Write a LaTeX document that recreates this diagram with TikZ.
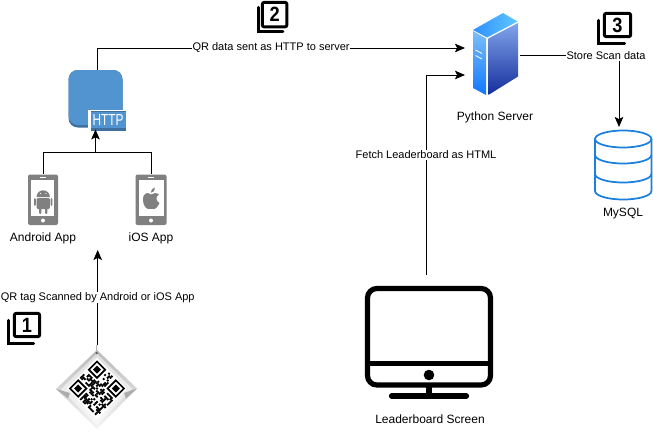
\documentclass[tikz,border=0pt]{standalone}
\usepackage{fontspec}
\setmainfont{Liberation Sans}
\usetikzlibrary{arrows.meta}
\definecolor{httpblue}{HTML}{5294CF}
\definecolor{httpdark}{HTML}{3F6F9F}
\definecolor{phonegray}{HTML}{808080}
\definecolor{dbblue}{HTML}{1A7FDD}
\tikzset{
  x=0.75pt,y=-0.75pt,
  lbl/.style={font=\fontsize{8.25pt}{10pt}\selectfont,fill=white,inner sep=0.4pt,text=black},
  cap12/.style={font=\fontsize{9pt}{11pt}\selectfont,inner sep=0pt,text=black},
  conn/.style={draw=black,line width=0.75pt,-{Stealth[length=7.5pt,width=6.4pt,inset=1.6pt]}},
  plainconn/.style={draw=black,line width=0.75pt},
  numicon/.style={line width=2.2pt,draw=black,rounded corners=1.5pt},
  numtxt/.style={font=\fontsize{15.5pt}{16pt}\selectfont\bfseries,inner sep=0pt,text=black,xscale=0.88},
}
% x, y, offset of the front box, its width, its height, digit
\newcommand{\numberedicon}[6]{%
  \draw[numicon] (#1+#3,#2) rectangle (#1+#3+#4,#2+#5);
  \draw[line width=2.2pt,black,line cap=round] (#1,#2+#3+1) -- (#1,#2+#5+#3+1) -- (#1+#4,#2+#5+#3+1);
  \node[numtxt] at (#1+#3+#4/2,#2+#5/2) {#6};
}
\begin{document}
\begin{tikzpicture}
\useasboundingbox (0,0) rectangle (653,439);
\fill[white] (0,0) rectangle (653,439);

% named anchors of the icons
\node[inner sep=0pt,minimum width=40.5pt,minimum height=43pt] (http) at (95.5,100.5) {};
\node[inner sep=0pt,minimum width=22.5pt,minimum height=38pt] (android) at (43,199.5) {};
\node[inner sep=0pt,minimum width=23.5pt,minimum height=38pt] (ios) at (151,199.5) {};
\node[inner sep=0pt,minimum width=60pt,minimum height=60pt] (tag) at (97,388) {};
\node[inner sep=0pt,minimum width=35pt,minimum height=61pt] (server) at (495,54.5) {};
\node[inner sep=0pt,minimum width=43pt,minimum height=52pt] (db) at (623.5,165) {};
\node[inner sep=0pt,minimum width=96pt,minimum height=84pt] (screen) at (429,331) {};

% HTTP icon
\fill[httpdark,rounded corners=7pt] (68.5,70) rectangle (122.5,127.5);
\fill[httpblue,rounded corners=7pt] (68.5,70) rectangle (122.5,125);
\fill[white] (88,110) rectangle (123,131);
\fill[httpblue] (90.5,111) rectangle (125.5,131);
\fill[httpdark] (90.5,127.8) rectangle (125.5,130.6);
\fill[httpdark] (90.5,110.5) rectangle (125.5,112);
\node[text=white,font=\fontsize{12pt}{13pt}\selectfont,xscale=0.74,inner sep=0pt] at (108,120) {HTTP};

% phones
\fill[phonegray,rounded corners=1.5pt] (28,174.5) rectangle (58,225);
\fill[white] (31,180) rectangle (54,215.5);
\fill[white] (40,176.5) rectangle (46,177.7);
\fill[white] (43,220.5) circle (2);
\fill[phonegray,rounded corners=1.5pt] (135.5,174.5) rectangle (166.5,225);
\fill[white] (138.5,180) rectangle (163.5,215.5);
\fill[white] (148,176.5) rectangle (154,177.7);
\fill[white] (151,220.5) circle (2);
% android glyph
\fill[phonegray] (36.5,197) arc[start angle=180,end angle=360,x radius=6.7,y radius=6.7] -- cycle;
\fill[phonegray,rounded corners=1pt] (36.5,198) rectangle (49.9,209);
\fill[phonegray,rounded corners=0.8pt] (34,198) rectangle (35.8,206);
\fill[phonegray,rounded corners=0.8pt] (50.6,198) rectangle (52.4,206);
\fill[phonegray,rounded corners=0.8pt] (39,208) rectangle (41.4,214);
\fill[phonegray,rounded corners=0.8pt] (45,208) rectangle (47.4,214);
\fill[white] (40.5,193.5) circle (0.7) (46,193.5) circle (0.7);
% apple glyph
\fill[phonegray] (151,194.5) .. controls (147,191.5) and (143,193) .. (143,200)
  .. controls (143,206) and (147,209.5) .. (149,209) .. controls (150,208.7) and (152,208.7) .. (153.5,209)
  .. controls (155.5,209.5) and (158.3,206) .. (159.5,203) .. controls (155.5,201) and (155.5,196) .. (159,194.5)
  .. controls (156.5,192) and (153,193.5) .. (151,194.5) -- cycle;
\fill[phonegray] (150.8,192.8) .. controls (150.8,190) and (152.5,188) .. (155,187.5) .. controls (155.2,190.5) and (153.5,192.5) .. (150.8,192.8) -- cycle;

% QR tag
\shade[top color=gray!55,bottom color=gray!8] (97,350) -- (137,388.5) -- (97,429) -- (56,389) -- cycle;
\shade[top color=gray!25,bottom color=gray!5] (97,353.5) -- (132,388.5) -- (97,425) -- (61,389) -- cycle;
\fill[gray!65] (56,389) -- (70,393) -- (68,398.5) -- cycle;
\fill[gray!65] (137,388.5) -- (124,393) -- (126,398.5) -- cycle;
\fill[white] (67,388.5) -- (97,357.5) -- (127,388.5) -- (97,420) -- cycle;
\fill[gray!75!black] (96.7,353) circle (1.3);
\fill[gray!60] (96.2,345) rectangle (97.2,352);
\begin{scope}[shift={(97,388.5)},rotate=45]
  \pgfmathsetseed{41}
  \foreach \i in {0,...,20}{
    \foreach \j in {0,...,20}{
      \pgfmathsetmacro{\rv}{rnd}
      \pgfmathtruncatemacro{\keep}{(\rv<0.5 && !((\i<8&&\j<8)||(\i>12&&\j<8)||(\i>12&&\j>12))) ? 1 : 0}
      \ifnum\keep=1
        \fill[black] ({(\i-10.5)*1.9},{(\j-10.5)*1.9}) rectangle ++(1.9,1.9);
      \fi
    }
  }
  \foreach \u/\v in {-19.95/-19.95,6.65/-19.95,6.65/6.65}{
    \fill[black] (\u,\v) rectangle ++(13.3,13.3);
    \fill[white] (\u+1.9,\v+1.9) rectangle ++(9.5,9.5);
    \fill[black] (\u+3.8,\v+3.8) rectangle ++(5.7,5.7);
  }
\end{scope}

% server
\shade[left color={rgb,255:red,47;green,143;blue,255},right color={rgb,255:red,96;green,200;blue,255}] (473,30) -- (503,13) -- (517.5,21.5) -- (487,37.5) -- cycle;
\shade[top color={rgb,255:red,125;green,190;blue,248},bottom color={rgb,255:red,15;green,120;blue,255}] (473,31) -- (486,38.5) -- (486,95) -- (473,88) -- cycle;
\shade[top color={rgb,255:red,130;green,165;blue,235},bottom color={rgb,255:red,20;green,45;blue,155}] (488.3,38.5) -- (518,23) -- (518,76.5) -- (488.3,95) -- cycle;
\draw[white,line width=0.6pt] (475.5,50) -- (482,53.5) (475.5,55.5) -- (482,59);

% database
\begin{scope}[draw=dbblue,line width=1.3pt]
  \fill[white] (595,139) -- (595,191) arc[start angle=180,end angle=0,x radius=28.2,y radius=8.5] -- (651.4,139) -- cycle;
  \draw (595,139) -- (595,191) arc[start angle=180,end angle=0,x radius=28.2,y radius=8.5] -- (651.4,139);
  \draw (623.2,139) ellipse[x radius=28.2,y radius=8.5];
  \draw (595,155) arc[start angle=180,end angle=0,x radius=28.2,y radius=8.5];
  \draw (595,174) arc[start angle=180,end angle=0,x radius=28.2,y radius=8.5];
\end{scope}

% monitor
\draw[black,line width=3.9pt,rounded corners=7pt] (367.5,288.5) rectangle (490.5,385);
\draw[black,line width=3.9pt] (367.5,363.7) -- (490.5,363.7);
\fill[black] (429,375) circle (5.3);
\draw[black,line width=3.9pt] (429,385) -- (429,396);
\draw[black,line width=3.9pt,line cap=round] (391.5,396) -- (466.5,396);

% numbered icons
\numberedicon{8.3}{313.3}{6}{25.4}{23.4}{1}
\numberedicon{258.3}{2.3}{4}{24.6}{24.6}{2}
\numberedicon{598.3}{13.3}{6}{26.4}{23.4}{3}

% captions
\node[cap12] at (43,238) {Android App};
\node[cap12] at (151,238) {iOS App};
\node[cap12] at (495,117) {Python Server};
\node[cap12] at (623,214) {MySQL};
\node[cap12] at (430,419) {Leaderboard Screen};

% connectors
\coordinate (aup) at (95.5,152);
\coordinate (qrout) at (97.7,345);
\coordinate (qrin) at (97.7,250);
\draw[plainconn] (android.north) -- (43,152) -- (151,152) -- (ios.north);
\draw[conn] (aup) -- (http.south -| aup);
\draw[conn] (97.7,70) -- (97.7,48) -- node[lbl,pos=0.472] (l2) {QR data sent as HTTP to server} (465,48);
\draw[conn] (qrout) -- node[lbl,pos=0.5] (l1) {QR tag Scanned by Android or iOS App} (qrin);
\draw[conn] (426,275) -- node[lbl,pos=0.6] (l4) {Fetch Leaderboard as HTML} (426,75) -- (465,75);
\draw[conn] (520,55) -- (619,55) -- (619,127);
\node[lbl] (l3) at (606,56) {Store Scan data};
\end{tikzpicture}
\end{document}
